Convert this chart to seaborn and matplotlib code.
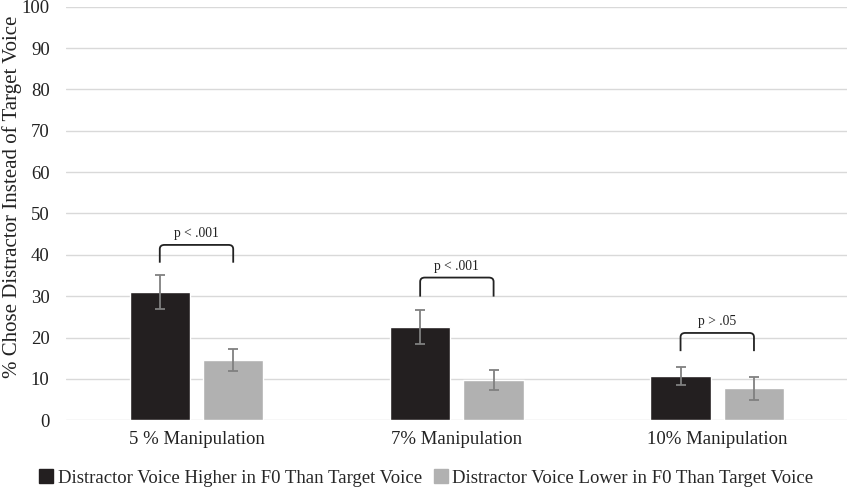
import pandas as pd
import matplotlib.pyplot as plt
import seaborn as sns
from matplotlib.lines import Line2D
from matplotlib.path import Path
from matplotlib.patches import PathPatch

# Data
conditions = ['5 % Manipulation', '7% Manipulation', '10% Manipulation']
series = ['Distractor Voice Higher in F0 Than Target Voice',
          'Distractor Voice Lower in F0 Than Target Voice']
higher = [31.0, 22.5, 10.6]
lower = [14.6, 9.8, 7.7]
higher_err = [4.1, 4.1, 2.2]
lower_err = [2.7, 2.4, 2.8]
p_labels = ['p < .001', 'p < .001', 'p > .05']
bracket_top = [42.4, 34.5, 21.1]
bracket_leg = [38.1, 29.9, 16.7]

colors = ['#231f20', '#b1b1b1']

df = pd.DataFrame({
    'Condition': conditions * 2,
    'Series': [series[0]] * 3 + [series[1]] * 3,
    'Value': higher + lower,
})

sns.set_style('white')
plt.rcParams['font.family'] = ['Liberation Serif', 'DejaVu Serif']

fig = plt.figure(figsize=(8.5, 4.88), dpi=100)
ax = fig.add_axes([0.078, 0.139, 0.919, 0.847])

sns.barplot(data=df, x='Condition', y='Value', hue='Series', palette=colors,
            width=0.564, gap=0.18, errorbar=None, legend=False, ax=ax,
            saturation=1, zorder=3)


def bracket(ax, x0, x1, y_leg, y_top, rx=0.018, ry=1.0):
    # square bracket with slightly rounded corners
    verts = [(x0, y_leg), (x0, y_top - ry), (x0, y_top), (x0 + rx, y_top),
             (x1 - rx, y_top), (x1, y_top), (x1, y_top - ry), (x1, y_leg)]
    codes = [Path.MOVETO, Path.LINETO, Path.CURVE3, Path.CURVE3,
             Path.LINETO, Path.CURVE3, Path.CURVE3, Path.LINETO]
    ax.add_patch(PathPatch(Path(verts, codes), fill=False, ec='#222222',
                           lw=1.3, zorder=4))


offset = 0.564 / 4
for i in range(len(conditions)):
    ax.errorbar(i - offset, higher[i], yerr=higher_err[i], fmt='none',
                ecolor='#808080', elinewidth=1.3, capsize=3.5, capthick=1.3, zorder=4)
    ax.errorbar(i + offset, lower[i], yerr=lower_err[i], fmt='none',
                ecolor='#808080', elinewidth=1.3, capsize=3.5, capthick=1.3, zorder=4)
    bracket(ax, i - offset, i + offset, bracket_leg[i], bracket_top[i])
    ax.text(i, bracket_top[i] + 1.2, p_labels[i], ha='center', va='bottom',
            fontsize=9.8, color='#222222')

ax.set_ylim(0, 100)
ax.set_xlim(-0.5, 2.5)
ax.set_yticks(range(0, 101, 10))
ax.yaxis.grid(True, color='#d9d9d9', lw=1, zorder=0)
ax.set_axisbelow(True)
for s in ax.spines.values():
    s.set_visible(False)
ax.tick_params(axis='both', length=0, labelsize=13.5, colors='#222222')
ax.tick_params(axis='x', pad=8)
ax.tick_params(axis='y', pad=12)
ax.set_xlabel('')
ax.set_ylabel('% Chose Distractor Instead of Target Voice', fontsize=15,
              color='#222222')
ax.yaxis.set_label_coords(-0.057, 0.54)

handles = [Line2D([], [], marker='s', ls='none', color=c, markersize=10) for c in colors]
fig.legend(handles, series, loc='center', bbox_to_anchor=(0.5, 0.02), ncol=2,
           frameon=False, fontsize=13.5, handletextpad=0.1, columnspacing=0.5,
           handlelength=1.0)

plt.savefig('out.png', dpi=100)
